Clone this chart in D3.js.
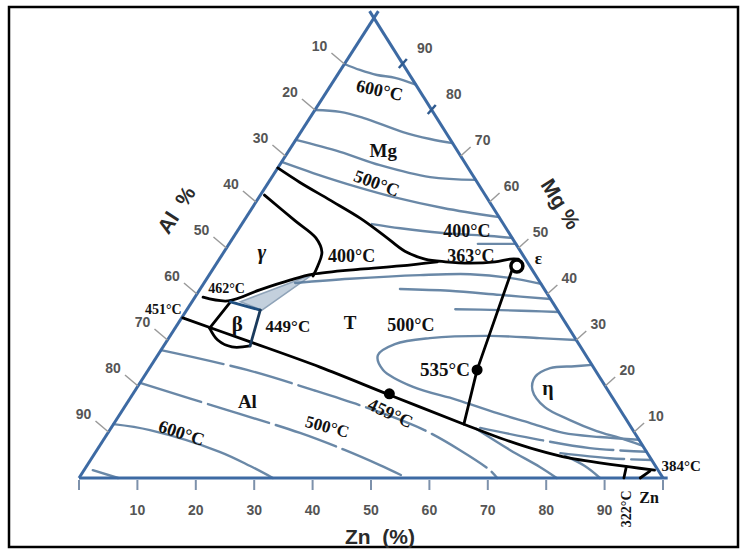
<!DOCTYPE html>
<html>
<head>
<meta charset="utf-8">
<title>Al-Mg-Zn</title>
<style>
  body { margin: 0; background: #fff; }
</style>
</head>
<body>
<svg id="chart" width="747" height="554"></svg>
<script src="https://d3js.org/d3.v7.min.js"></script>
<script>
const svg = d3.select("#chart")

// every point is [Zn %, Mg %], Al is what is left
const tickVals = [10, 20, 30, 40, 50, 60, 70, 80, 90]
const baseTicks = [0, 10, 20, 30, 40, 50, 60, 70, 80, 90, 100]

// isotherms in the Mg corner
const isoTop = [
  [[0,90],[3.3,88.7],[6.8,87.6],[10.2,87.0],[14.5,85.5]],
  [[0,80],[4.5,79.6],[9.1,78.3],[17.5,75.2],[22.9,73.7],[27.2,72.8]],
  [[0,73.5],[8.9,70.9],[17.2,68.0],[27.1,65.4],[35.2,64.8]],
  [[0,68.7],[6.6,66.3],[15.6,63.3],[23.7,60.9],[32.7,58.7],[43.3,56.7]],
  [[22.3,55.2],[27.6,54.3],[34.9,53.3],[43.8,52.6],[47.8,52.2]],
  [[42.6,50.9],[49.1,50.9]]
]
// isotherms in the T / eta field
const isoMid = [
  [[15.6,42.4],[24.5,43.3],[36.1,44.1],[44.6,44.3],[51.8,43.5],[57.8,42.2]],
  [[34.2,41.1],[42.9,40.7],[52.0,39.8],[61.1,38.9]],
  [[45.9,36.7],[53.7,36.5],[58.9,36.3],[63.9,36.1]],
  [[70,30],[63.5,30.4],[54.8,30.9],[44.7,30.4],[39.4,29.1],[37.7,26.7],[40.2,23.5],[47.2,19.8],[56.1,17.0],[64.5,14.1],[71.1,12.0],[78.0,9.8],[84.7,8.9],[91.7,8.3]],
  [[75.4,24.6],[72.6,24.3],[68.6,23.9],[67.0,22.0],[68.0,19.1],[72.0,15.4],[77.7,12.6],[83.5,10.2],[88.2,8.7],[93,7]]
]
// isotherms in the Al corner and under the valley
const isoLow = [
  [[0,11.7],[6.9,10.4],[21.2,5.7],[28.0,2.6],[33.2,0]],
  [[1.5,1.7],[6.7,0]],
  [[62.6,10.7],[70.7,6.1],[77.7,2.4],[81.8,0]],
  [[80.8,4.8],[85.3,2.6],[89.2,0]]
]
const isoBroken = [
  [[0,27.8],[16.9,23.5],[30.5,19.1],[44.3,14.3],[53.9,10.4],[62.1,6.1],[69.5,1.7],[71.6,0]],
  [[0,20.7],[17.8,14.8],[32.9,9.8],[42.4,6.1],[50.1,2.8],[56.2,0]],
  [[63.2,10.9],[74.7,8.3],[84.2,6.5],[94.3,5.7]],
  [[79.7,5.4],[88.7,4.3],[96.1,3.9]]
]

// phase boundaries
const lineMg = [[0,67.4],[5.3,64.3],[12.5,60.4],[19.6,56.5],[25.8,52.6],[30.9,49.3],[35.2,47.6],[39.0,47.0],[43.4,46.7],[47.5,47.0],[49.8,47.6],[51.2,47.6]]
const lineGamma = [[0.7,61.5],[8.8,55.9],[14.2,52.2],[16.8,49.1],[17.6,46.1],[17.9,43.9]]
const line462 = [[1.4,39.3],[6.1,38.5],[10.3,40.9],[14.4,43.0],[17.7,44.3],[25.2,45.4],[31.7,46.1],[37.6,47.0]]
const lineEps = [[51.2,45.7],[56.3,23.5],[60.0,11.7]]
const lineAl = [[0.2,34.8],[13.8,29.8],[29.1,24.1],[44.2,18.0],[60.0,11.7],[67.7,8.7],[75.3,6.1],[81.9,4.3],[87.5,3.3],[93.1,2.4],[97.7,1.7]]
const line322 = [[92.5,2.4],[93.3,0]]
const arrowZn = [[96.1,0],[97.0,1.5]]

const betaTop = [[6.6,38.3],[12.6,36.5]]
const betaRight = [[12.6,36.5],[14.8,28.7]]
const betaLeft = [[6.6,38.3],[5.9,32.6]]
const betaBottom = [[5.9,32.6],[8.6,30.0],[11.8,28.5],[14.8,28.7]]
const wedge = [[8.3,38.3],[17.7,44.3],[12.9,36.5]]

const epsPoint = [51.7,46.1]
const dots = [[43.9,18.3],[56.3,23.5]]

// text, Zn, Mg, size, rotation
const labels = [
  ["600°C", 8.9, 84.3, 18, 12],
  ["Mg", 16.1, 71.3, 19, 0],
  ["500°C", 18.6, 64.1, 18, 20],
  ["400°C", 39.3, 53.7, 18, 0],
  ["363°C", 42.7, 48.3, 18, 0],
  ["400°C", 22.3, 48.3, 18, 0],
  ["462°C", 4.5, 41.1, 14, 0],
  ["451°C", -4.1, 36.7, 14, 0],
  ["β", 10.2, 33.5, 21, 0],
  ["449°C", 19.1, 33.0, 17, 0],
  ["T", 29.3, 33.9, 19, 0],
  ["500°C", 40.0, 33.3, 18, 0],
  ["535°C", 50.8, 23.5, 19, 0],
  ["η", 70.4, 19.6, 20, 0],
  ["ε", 54.5, 47.8, 17, 0],
  ["459°C", 46.2, 14.1, 18, 25],
  ["500°C", 36.9, 11.1, 17, 15],
  ["Al", 20.4, 16.7, 19, 0],
  ["600°C", 12.6, 9.8, 18, 18],
  ["384°C", 101.8, 2.6, 15, 0],
  ["Zn", 99.8, -4.3, 16, 0],
  ["322°C", 97.1, -6.7, 14, -90]
]

let x = d3.scaleLinear().domain([0, 100]).range([79, 663])
let y = d3.scaleLinear().domain([0, 100]).range([478, 18])
const proj = d => [x(d[0] + 0.505 * d[1]), y(d[1])]

let smooth = d3.line()
  .x(d => proj(d)[0])
  .y(d => proj(d)[1])
  .curve(d3.curveCatmullRom.alpha(0.5))
let straight = d3.line()
  .x(d => proj(d)[0])
  .y(d => proj(d)[1])

svg.append("rect")
  .attr("x", 9).attr("y", 7).attr("width", 729).attr("height", 540)
  .attr("fill", "none").attr("stroke", "#000").attr("stroke-width", 2.5)

// gray wedge next to beta
svg.append("path")
  .attr("d", straight(wedge) + "Z")
  .attr("fill", "#c3d0dd").attr("stroke", "#8fa3b8").attr("stroke-width", 1.5)

// isotherms
let iso = svg.append("g")
  .attr("fill", "none").attr("stroke", "#5a7c9e")
  .attr("stroke-width", 2.4).attr("stroke-linecap", "round").attr("opacity", 0.9)
iso.selectAll(".solid")
  .data(isoTop.concat(isoMid, isoLow))
  .join("path").attr("class", "solid")
  .attr("d", smooth)
iso.selectAll(".broken")
  .data(isoBroken)
  .join("path").attr("class", "broken")
  .attr("stroke-dasharray", "64,7")
  .attr("d", smooth)

// triangle and ticks
let axis = svg.append("g").attr("stroke", "#3d6aa3").attr("stroke-width", 3).attr("fill", "none")
axis.append("path").attr("d", straight([[0, 0], [0, 101.5]]))
axis.append("path").attr("d", straight([[100, 0], [-1.5, 101.5]]))
axis.append("path").attr("d", straight([[0, 0], [100.8, 0]]))

svg.append("g").selectAll("line")
  .data(baseTicks).join("line")
  .attr("x1", d => proj([d, 0])[0]).attr("x2", d => proj([d, 0])[0])
  .attr("y1", y(0) + 2).attr("y2", y(0) + 12)
  .attr("stroke", "#7d91ab").attr("stroke-width", 2)

svg.append("g").selectAll("line")
  .data(tickVals).join("line")
  .attr("x1", d => proj([0, 100 - d])[0]).attr("y1", d => proj([0, 100 - d])[1])
  .attr("x2", d => proj([0, 100 - d])[0] - 13).attr("y2", d => proj([0, 100 - d])[1] - 11)
  .attr("stroke", "#9a9a9a").attr("stroke-width", 1.5)

svg.append("g").selectAll("line")
  .data(tickVals).join("line")
  .attr("x1", d => proj([100 - d, d])[0] - (d >= 80 ? 4 : 0))
  .attr("y1", d => proj([100 - d, d])[1] + (d >= 80 ? 4 : 0))
  .attr("x2", d => proj([100 - d, d])[0] + (d >= 80 ? 4 : 10))
  .attr("y2", d => proj([100 - d, d])[1] - (d >= 80 ? 5 : 9))
  .attr("stroke", d => d >= 80 ? "#2f5a8f" : "#9a9a9a")
  .attr("stroke-width", d => d >= 80 ? 2.5 : 1.5)

let tickFont = g => g.attr("font-family", "Liberation Sans, Arial, sans-serif")
  .attr("font-weight", "bold").attr("font-size", 14).attr("fill", "#555")
  .attr("text-anchor", "middle").attr("dominant-baseline", "central")

svg.append("g").call(tickFont).selectAll("text")
  .data(tickVals).join("text")
  .attr("x", d => proj([d, 0])[0]).attr("y", y(0) + 32)
  .text(d => d)
svg.append("g").call(tickFont).selectAll("text")
  .data(tickVals).join("text")
  .attr("x", d => proj([0, 100 - d])[0] - 25).attr("y", d => proj([0, 100 - d])[1] - 18)
  .text(d => d)
svg.append("g").call(tickFont).selectAll("text")
  .data(tickVals).join("text")
  .attr("x", d => proj([100 - d, d])[0] + 22).attr("y", d => proj([100 - d, d])[1] - 16)
  .text(d => d)

// axis titles
let titles = [["Al  %", -12.8, 58.3, -57], ["Mg %", 52.4, 59.6, 58], ["Zn  (%)", 58.0, -12.8, 0]]
svg.append("g")
  .attr("font-family", "Liberation Sans, Arial, sans-serif").attr("font-weight", "bold")
  .attr("font-size", 21).attr("fill", "#2a2a2a")
  .attr("text-anchor", "middle").attr("dominant-baseline", "central")
  .selectAll("text").data(titles).join("text")
  .attr("transform", d => `translate(${proj([d[1], d[2]])}) rotate(${d[3]})`)
  .style("white-space", "pre")
  .text(d => d[0])

// phase boundaries
let bnd = svg.append("g").attr("fill", "none").attr("stroke", "#000")
  .attr("stroke-width", 2.8).attr("stroke-linejoin", "round").attr("stroke-linecap", "round")
bnd.selectAll("path")
  .data([lineMg, lineGamma, line462, lineAl, betaBottom])
  .join("path").attr("d", smooth)
bnd.selectAll(".seg")
  .data([lineEps, betaLeft, line322, arrowZn])
  .join("path").attr("class", "seg").attr("d", straight)
bnd.append("path").attr("d", straight(betaTop)).attr("stroke", "#1f4f80")
bnd.append("path").attr("d", straight(betaRight)).attr("stroke", "#1a3a5c")

svg.append("circle")
  .attr("cx", proj(epsPoint)[0]).attr("cy", proj(epsPoint)[1]).attr("r", 6)
  .attr("fill", "#fff").attr("stroke", "#000").attr("stroke-width", 3.5)

svg.selectAll(".dot").data(dots).join("circle").attr("class", "dot")
  .attr("cx", d => proj(d)[0]).attr("cy", d => proj(d)[1]).attr("r", 5.5)
  .attr("fill", "#000")

// labels
svg.append("g")
  .attr("font-family", "Liberation Serif, Times New Roman, serif").attr("font-weight", "bold")
  .attr("fill", "#111").attr("text-anchor", "middle").attr("dominant-baseline", "central")
  .selectAll("text").data(labels).join("text")
  .attr("font-size", d => d[3])
  .attr("transform", d => `translate(${proj([d[1], d[2]])}) rotate(${d[4]})`)
  .text(d => d[0])

svg.append("text")
  .attr("font-family", "Liberation Serif, Times New Roman, serif").attr("font-style", "italic")
  .attr("font-weight", "bold").attr("font-size", 21).attr("fill", "#111")
  .attr("text-anchor", "middle").attr("dominant-baseline", "central")
  .attr("transform", `translate(${proj([6.5, 49.1])})`)
  .text("γ")
</script>
</body>
</html>
